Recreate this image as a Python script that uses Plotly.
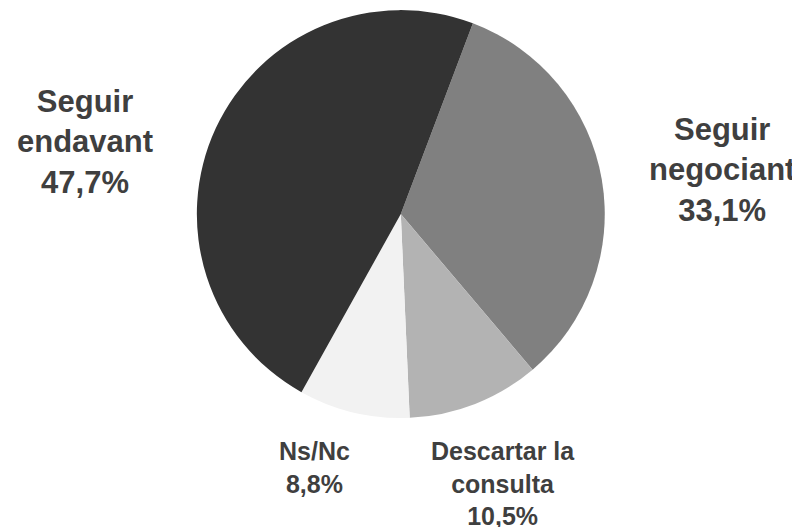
import plotly.graph_objects as go

# === DATA ===
labels = ["Seguir negociant", "Descartar la consulta", "Ns/Nc", "Seguir endavant"]
values = [33.1, 10.5, 8.8, 47.7]
label_text = ["Seguir<br>negociant<br>33,1%", "Descartar la<br>consulta<br>10,5%",
              "Ns/Nc<br>8,8%", "Seguir<br>endavant<br>47,7%"]
colors = ["#808080", "#b3b3b3", "#f2f2f2", "#333333"]

FONT = "Liberation Sans, Arial, sans-serif"
TEXT_COLOR = "#3f3f3f"

fig = go.Figure(go.Pie(
    labels=labels,
    values=values,
    sort=False,
    direction="clockwise",
    rotation=20.7,
    marker=dict(colors=colors, line=dict(width=0)),
    textinfo="none",
    hoverinfo="label+percent",
    domain=dict(x=[0.236, 0.746], y=[0.222, 0.996]),
    showlegend=False,
))

# label positions (paper coords) and font sizes
label_pos = [(0.8925, 0.693, 31), (0.619, 0.0985, 25), (0.3825, 0.129, 25), (0.096, 0.746, 31)]
for txt, (x, y, size) in zip(label_text, label_pos):
    fig.add_annotation(x=x, y=y, xref="paper", yref="paper", text=f"<b>{txt}</b>",
                       showarrow=False, align="center", xanchor="center", yanchor="middle",
                       font=dict(family=FONT, size=size, color=TEXT_COLOR))

fig.update_layout(
    width=800, height=527,
    margin=dict(l=0, r=0, t=0, b=0),
    paper_bgcolor="white",
    plot_bgcolor="white",
    font=dict(family=FONT, color=TEXT_COLOR),
)

fig.write_html("out.html")
